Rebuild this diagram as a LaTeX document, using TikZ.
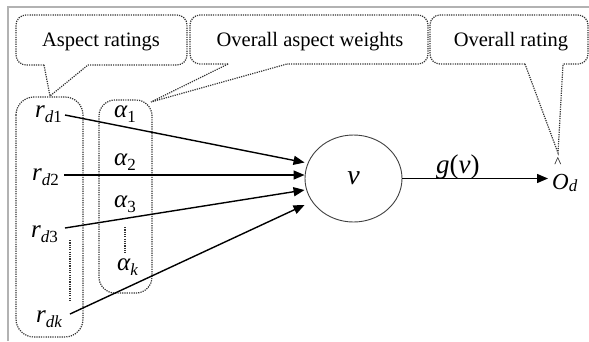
\documentclass[tikz,border=0pt]{standalone}
\usepackage{fontspec}
\setmainfont{Liberation Serif}
\usetikzlibrary{arrows.meta,shapes.geometric}
\newcommand\lsub[1]{\raisebox{-5pt}{\fontsize{17}{17}\selectfont #1}}
\begin{document}
\begin{tikzpicture}[x=1pt,y=-1pt,
  frame/.style={draw=gray!60, line width=1.3pt},
  dots/.style={draw=black!80, line width=1.2pt, dash pattern=on 1.2pt off 1.1pt},
  lab/.style={inner sep=0pt, font=\fontsize{25}{28}\selectfont\itshape},
  ctext/.style={inner sep=0pt, font=\fontsize{20.5}{24}\selectfont},
  arr/.style={line width=1.4pt, -{Triangle[length=11pt,width=9pt]}},
]
\useasboundingbox (0,0) rectangle (589,341);
\draw[frame] (8,341) -- (8,7) -- (589,7);

% callouts
\draw[dots, rounded corners=10pt] (44,65) -- (16,65) -- (16,15) -- (187,15) -- (187,65) -- (88,65);
\coordinate (tip1) at (50,96);
\draw[dots] (44,65) -- (tip1) -- (88,65);
\draw[dots, rounded corners=10pt] (228,64) -- (190,64) -- (190,15) -- (428,15) -- (428,64) -- (287,64);
\coordinate (tip2) at (151,102);
\draw[dots] (228,64) -- (tip2) -- (287,64);
\draw[dots, rounded corners=10pt] (525,64) -- (430,64) -- (430,15) -- (588,15) -- (588,64) -- (563,64);
\coordinate (tip3) at (558,153);
\draw[dots] (525,64) -- (tip3) -- (563,64);

\node[ctext, anchor=base] (t1) at (101,46) {Aspect ratings};
\node[ctext, anchor=base] (t2) at (310,46) {Overall aspect weights};
\node[ctext, anchor=base] (t3) at (511,46) {Overall rating};

% grouping boxes
\draw[dots, rounded corners=18pt] (16,97) rectangle (83,337);
\draw[dots, rounded corners=16pt] (99,100) rectangle (152,293);

% labels
\node[lab, anchor=base west] (rd1) at (35,117) {r\lsub{d\upshape 1}};
\node[lab, anchor=base west] (rd2) at (32,180) {r\lsub{d\upshape 2}};
\node[lab, anchor=base west] (rd3) at (31,237) {r\lsub{d\upshape 3}};
\node[lab, anchor=base west] (rdk) at (36,322) {r\lsub{dk}};
\node[lab, anchor=base west] (a1) at (114,117) {α\lsub{\upshape 1}};
\node[lab, anchor=base west] (a2) at (114,165) {α\lsub{\upshape 2}};
\node[lab, anchor=base west] (a3) at (114,207) {α\lsub{\upshape 3}};
\node[lab, anchor=base west] (ak) at (117,270) {α\lsub{k}};

\draw[dots] (70,240) -- (70,300);
\draw[dots] (125,227) -- (125,253);

% neuron
\node[draw=black!75, line width=0.9pt, ellipse, minimum width=97pt, minimum height=87pt,
      inner sep=0pt, font=\fontsize{28}{30}\selectfont\itshape] (v) at (353.5,178.5) {v};

\coordinate (s1) at (65,115);
\coordinate (s2) at (64,175);
\coordinate (s3) at (65,228);
\coordinate (s4) at (70,314);
\draw[arr] (s1) -- ([yshift=16pt]v.west);
\draw[arr] (s2) -- ([yshift=3.5pt]v.west);
\draw[arr] (s3) -- ([yshift=-11.5pt]v.west);
\draw[arr] (s4) -- ([yshift=-26.5pt]v.west);

% output
\node[inner sep=0pt, anchor=base west, font=\fontsize{23}{25}\selectfont\itshape] (Od) at (552,189) {O\raisebox{-2pt}{\fontsize{17}{17}\selectfont d}};
\node[inner sep=0pt, font=\fontsize{15}{15}\selectfont] (hat) at (558,163) {\textasciicircum};
\draw[arr, shorten >=4pt] (v.east) -- (v.east -| Od.west);
\node[inner sep=0pt, anchor=base west, font=\fontsize{27}{29}\selectfont] (g) at (436,173) {\textit{g}(\textit{v})};
\end{tikzpicture}
\end{document}
